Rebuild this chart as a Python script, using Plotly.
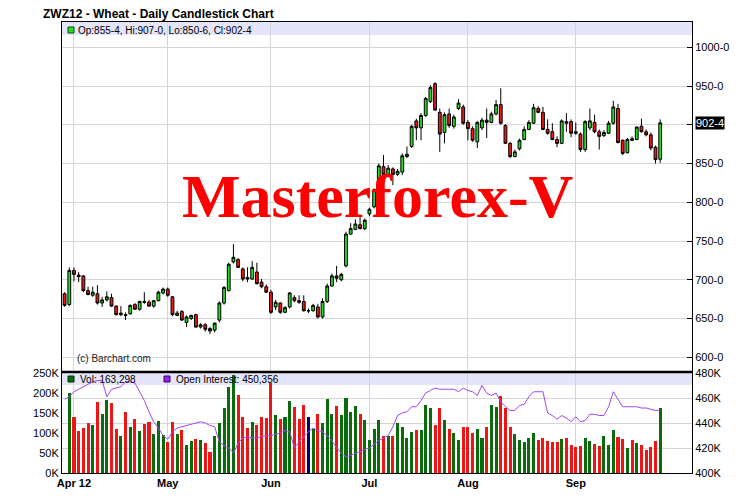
import plotly.graph_objects as go
import pandas as pd
import numpy as np

TITLE = "ZWZ12 - Wheat - Daily Candlestick Chart"
WATERMARK = "Masterforex-V"
COPYRIGHT = "(c) Barchart.com"

START = "2012-03-29"
END = "2012-09-28"
HOLIDAYS = ["2012-04-06", "2012-05-28", "2012-07-04", "2012-09-03"]

OPEN = [682, 668, 712, 706, 705, 686, 680, 682, 670, 674, 677, 666, 655, 655, 656, 668, 662, 672, 671, 666,
        673, 683, 688, 678, 654, 659, 645, 650, 655, 639, 642, 637, 635, 648, 670, 686, 723, 726, 714, 703,
        701, 710, 697, 691, 684, 665, 670, 658, 665, 677, 673, 672, 660, 660, 665, 652, 672, 692, 705, 700,
        718, 759, 765, 771, 766, 785, 794, 816, 846, 836, 843, 836, 839, 859, 872, 905, 896, 912, 930, 953,
        916, 890, 914, 898, 921, 923, 903, 895, 878, 896, 906, 903, 914, 926, 899, 876, 859, 869, 881, 894,
        902, 921, 916, 894, 891, 881, 876, 904, 904, 891, 888, 868, 896, 903, 891, 886, 889, 902, 921, 880,
        864, 882, 881, 898, 891, 887, 871, 855.5]
HIGH = [684, 716, 716, 710, 706, 691, 691, 693, 678, 685, 682, 667, 666, 658, 668, 670, 673, 684, 674, 674,
        686, 690, 690, 679, 660, 661, 654, 655, 656, 644, 644, 639, 645, 672, 692, 722, 746, 728, 716, 716,
        724, 722, 701, 694, 687, 674, 671, 666, 684, 680, 680, 680, 663, 669, 669, 676, 695, 708, 718, 709,
        762, 773, 778, 781, 779, 793, 818, 850, 861, 848, 845, 843, 863, 872, 900, 908, 915, 936, 951, 955,
        921, 916, 921, 913, 933, 926, 906, 898, 905, 909, 921, 917, 932, 947, 901, 878, 868, 882, 898, 906,
        927, 924, 923, 907, 902, 885, 907, 915, 907, 903, 890, 906, 921, 913, 894, 893, 905, 931, 927, 881,
        883, 885, 898, 908, 894, 890, 873, 907]
LOW = [665, 666, 698, 697, 684, 680, 678, 668, 665, 672, 665, 654, 653, 648, 655, 661, 660, 669, 665, 664,
       672, 681, 678, 653, 653, 647, 639, 648, 638, 637, 633, 630, 632, 645, 668, 685, 721, 715, 698, 697,
       700, 694, 689, 683, 656, 661, 656, 657, 663, 671, 669, 659, 657, 659, 650, 650, 670, 691, 697, 698,
       716, 758, 764, 765, 764, 782, 792, 814, 831, 833, 822, 834, 835, 857, 870, 880, 880, 910, 928, 918,
       865, 876, 896, 895, 919, 900, 880, 878, 870, 893, 883, 902, 912, 900, 875, 857, 858, 867, 880, 893,
       901, 915, 893, 887, 880, 871, 875, 891, 884, 887, 865, 865, 893, 889, 868, 884, 888, 900, 876, 861,
       863, 879, 880, 890, 885, 867, 850, 850.75]
CLOSE = [667, 712, 707, 704, 686, 681, 684, 670, 674, 678, 666, 655, 657, 654, 667, 662, 672, 671, 666, 673,
         684, 688, 680, 655, 657, 648, 652, 654, 639, 642, 636, 634, 644, 670, 690, 720, 729, 716, 701, 701,
         716, 695, 691, 684, 658, 671, 658, 664, 683, 673, 671, 660, 660, 667, 652, 672, 692, 705, 702, 707,
         759, 766, 772, 766, 777, 791, 816, 847, 836, 844, 836, 840, 860, 862, 898, 896, 912, 934, 948, 919,
         888, 913, 899, 910, 928, 902, 895, 880, 903, 906, 903, 914, 926, 902, 876, 859, 865, 880, 894, 903,
         922, 916, 894, 889, 881, 876, 905, 902, 889, 889, 868, 904, 905, 891, 885, 890, 902, 923, 877, 863,
         881, 880, 897, 891, 887, 870, 855, 902.5]

# volume in thousands of contracts (first day not shown on the chart)
VOLUME_K = [None,
            199, 141, 106, 113, 124, 120, 178, 148, 183, 176,
            110, 93, 152, 115, 135, 105, 123, 127, 98, 130,
            95, 78, 128, 98, 108, 70, 80, 85, 82, 76,
            53, 93, 126, 163, 216, 245, 195, 141, 113, 128,
            120, 141, 137, 224, 146, 135, 141, 180, 166, 135,
            171, 140, 109, 148, 126, 185, 148, 167, 146, 188,
            153, 168, 148, 132, 82, 110, 132, 93, 93, 93,
            124, 115, 88, 103, 108, 108, 170, 163, 120, 163,
            132, 110, 101, 82, 115, 115, 101, 110, 88, 115,
            170, 165, 193, 163, 115, 98, 82, 78, 88, 101,
            82, 88, 80, 78, 78, 85, 88, 70, 65, 68,
            88, 80, 73, 68, 93, 70, 108, 90, 85, 63,
            82, 75, 70, 58, 65, 80, 163.298]
# volume bar colour code: g = up, r = down, n = unchanged
VOL_DIR = ("-" + "grrrrgrggr" + "rgrgrgrrgg" + "grrgrggrgr" + "rgggggrrrg" + "rrrrgrggrr"
           + "rngrgggrgg" + "ggrggggrgr" + "ggggrgggrr" + "grggrrrggr" + "ggrrrggggg"
           + "rrrrrgrrrr" + "ggrrgggrrg" + "rgrrrrg")
OI_K = [459, 461, 465, 467, 469, 471, 473, 474, 474, 461, 467, 468, 469, 473, 473, 472, 465, 458, 449, 441,
        436, 430, 427, 433, 436, 437, 438, 439, 440, 441, 440, 438, 437, 425, 422, 420, 416, 424, 428, 429,
        428, 428, 429, 430, 430, 431, 432, 434, 433, 420, 425, 429, 433, 436, 434, 433, 430, 426, 420, 416,
        413, 414, 416, 417, 419, 420, 423, 426, 428, 430, 437, 446, 448, 449, 453, 453, 458, 464, 466, 468,
        467, 467, 467, 467, 465, 468, 466, 465, 462, 470, 464, 462, 464, 457, 453, 450, 450, 454, 455, 461,
        465, 465, 465, 448, 446, 443, 446, 444, 441, 445, 441, 442, 447, 447, 446, 446, 453, 465, 459, 453,
        453, 453, 453, 452, 452, 451, 450, 450.356]

PRICE_TICKS = [600, 650, 700, 750, 800, 850, 900, 950, 1000]
VOL_TICKS = [0, 50, 100, 150, 200, 250]
OI_TICKS = [400, 420, 440, 460, 480]

GREEN = "#22dd22"
RED = "#ee1515"
VGREEN = "#0b6a0b"
VRED = "#ee1515"
VNAVY = "#000066"
PURPLE = "#a347f0"
BAND = "#e4e4fa"
GRID = "#d6d6d6"
FONT = "Liberation Sans"

# the page body has an 8px default margin; size the figure so the plot lands where the reference has it
PAGE_OFF = 8
FIG_W, FIG_H = 756 - PAGE_OFF, 502 - PAGE_OFF
M_L, M_R, M_T = 62 - PAGE_OFF, 64, 22 - PAGE_OFF
PLOT_W, PLOT_H = 630, 451
M_B = FIG_H - M_T - PLOT_H

dates = [d for d in pd.bdate_range(START, END) if d.strftime("%Y-%m-%d") not in HOLIDAYS]
n = len(dates)
assert n == len(OPEN) == len(HIGH) == len(LOW) == len(CLOSE) == len(VOLUME_K) == len(OI_K) == len(VOL_DIR)
x = np.arange(n)

month_idx = [i for i in range(1, n) if dates[i].month != dates[i - 1].month]
month_lbl = [dates[i].strftime("%b") for i in month_idx]
month_lbl[0] = dates[month_idx[0]].strftime("%b %y")


def fmt8(p):
    whole = int(p)
    return f"{whole}-{int(round((p - whole) * 8))}"


last = n - 1
cmap = {"g": VGREEN, "r": VRED, "n": VNAVY, "-": VGREEN}
vol_colors = [cmap[c] for c in VOL_DIR]
# the last-price box replaces the tick label it would sit on
price_ticktext = ["" if abs(v - CLOSE[last]) < 10 else fmt8(v) for v in PRICE_TICKS]

fig = go.Figure()
fig.add_trace(go.Candlestick(
    x=x, open=OPEN, high=HIGH, low=LOW, close=CLOSE,
    increasing=dict(line=dict(color="black", width=1), fillcolor=GREEN),
    decreasing=dict(line=dict(color="black", width=1), fillcolor=RED),
    whiskerwidth=0, xaxis="x", yaxis="y", hoverinfo="skip", showlegend=False))
fig.add_trace(go.Bar(x=x, y=VOLUME_K, marker=dict(color=vol_colors, line=dict(width=0)),
                     width=0.65, xaxis="x2", yaxis="y2", hoverinfo="skip", showlegend=False))
fig.add_trace(go.Scatter(x=x, y=OI_K, mode="lines", line=dict(color=PURPLE, width=1),
                         xaxis="x2", yaxis="y3", hoverinfo="skip", showlegend=False))

xr = [-0.554, 133.78]
axis_common = dict(showline=True, linecolor="black", linewidth=1, zeroline=False)
fig.update_layout(
    width=FIG_W, height=FIG_H,
    margin=dict(l=M_L, r=M_R, t=M_T, b=M_B, autoexpand=False),
    paper_bgcolor="white", plot_bgcolor="white",
    showlegend=False, boxgap=0.14, bargap=0,
    font=dict(family=FONT, size=11, color="black"),
    title=dict(text=TITLE, x=(43 - PAGE_OFF) / FIG_W, xanchor="left", xref="container",
               y=1 - (14 - PAGE_OFF) / FIG_H, yanchor="middle", yref="container",
               font=dict(family=FONT, size=12, weight="bold", color="black")),
    xaxis=dict(domain=[0, 1], anchor="y", range=xr, tickvals=month_idx, showticklabels=False,
               showgrid=True, gridcolor=GRID, mirror=True, ticks="",
               rangeslider=dict(visible=False), **axis_common),
    yaxis=dict(domain=[101 / PLOT_H, 1], anchor="x", side="right", range=[581, 1032.6],
               tickvals=PRICE_TICKS, ticktext=price_ticktext,
               ticks="inside", ticklen=5, tickcolor="black", showgrid=True, gridcolor=GRID,
               mirror=True, tickfont=dict(size=11), **axis_common),
    xaxis2=dict(domain=[0, 1], anchor="y2", range=xr, matches="x", tickvals=month_idx,
                ticktext=month_lbl, tickfont=dict(size=11, weight="bold"), showgrid=True,
                gridcolor=GRID, mirror=True, ticks="", **axis_common),
    yaxis2=dict(domain=[0, 100 / PLOT_H], anchor="x2", side="left", range=[0, 250],
                tickvals=VOL_TICKS, ticktext=[f"{v}K" for v in VOL_TICKS], showgrid=False,
                ticks="", tickfont=dict(size=11), **axis_common),
    yaxis3=dict(overlaying="y2", anchor="x2", side="right", range=[400, 480],
                tickvals=OI_TICKS, ticktext=[f"{v}K" for v in OI_TICKS], showgrid=True,
                gridcolor=GRID, ticks="", tickfont=dict(size=11), **axis_common),
)

shapes = [
    dict(type="rect", xref="x domain", yref="y domain", x0=0, x1=1, y0=1 - 13 / 350, y1=1,
         fillcolor=BAND, line=dict(width=0), layer="below"),
    dict(type="rect", xref="x2 domain", yref="y2 domain", x0=0, x1=1, y0=0.88, y1=1,
         fillcolor=BAND, line=dict(width=0), layer="below"),
    dict(type="line", xref="paper", yref="y domain", x0=0, x1=1, y0=0, y1=0,
         line=dict(color="black", width=2.5)),
    dict(type="rect", xref="x domain", yref="y domain", x0=6 / PLOT_W, x1=12 / PLOT_W,
         y0=(372 - 33) / 350, y1=(372 - 27) / 350, fillcolor=GREEN, line=dict(color="#114411", width=1)),
    dict(type="rect", xref="x2 domain", yref="y2 domain", x0=6 / PLOT_W, x1=12 / PLOT_W,
         y0=0.91, y1=0.97, fillcolor=VGREEN, line=dict(color="#003300", width=1)),
    dict(type="rect", xref="x2 domain", yref="y2 domain", x0=102 / PLOT_W, x1=108 / PLOT_W,
         y0=0.91, y1=0.97, fillcolor="#9922ee", line=dict(color="#330066", width=1)),
]
fig.update_layout(shapes=shapes)

ohlc_text = (f"Op:{fmt8(OPEN[last])}, Hi:{fmt8(HIGH[last])}, "
             f"Lo:{fmt8(LOW[last])}, Cl:{fmt8(CLOSE[last])}")
annotations = [
    dict(text=ohlc_text, xref="x domain", yref="y domain", x=14 / PLOT_W, y=(372 - 30) / 350,
         xanchor="left", yanchor="middle", showarrow=False, font=dict(size=10)),
    dict(text=f"Vol: {int(round(VOLUME_K[last] * 1000)):,}", xref="x2 domain", yref="y2 domain",
         x=16 / PLOT_W, y=0.94, xanchor="left", yanchor="middle", showarrow=False, font=dict(size=10)),
    dict(text=f"Open Interest: {int(round(OI_K[last] * 1000)):,}", xref="x2 domain", yref="y2 domain",
         x=112 / PLOT_W, y=0.94, xanchor="left", yanchor="middle", showarrow=False, font=dict(size=10)),
    dict(text=COPYRIGHT, xref="x domain", yref="y domain", x=13 / PLOT_W, y=14 / 350,
         xanchor="left", yanchor="middle", showarrow=False, font=dict(size=10, color="#222222")),
    dict(text=fmt8(CLOSE[last]), xref="paper", yref="y", x=1 + 3 / PLOT_W, y=CLOSE[last],
         xanchor="left", yanchor="middle", showarrow=False, bgcolor="black",
         font=dict(size=11, color="white"), borderpad=0),
    dict(text=WATERMARK, xref="x domain", yref="y domain", x=0.5016, y=(372 - 196) / 350,
         xanchor="center", yanchor="middle", showarrow=False,
         font=dict(family="Liberation Serif", size=62, weight="bold", color="#ff0000")),
]
fig.update_layout(annotations=annotations)

fig.write_html("out.html")
